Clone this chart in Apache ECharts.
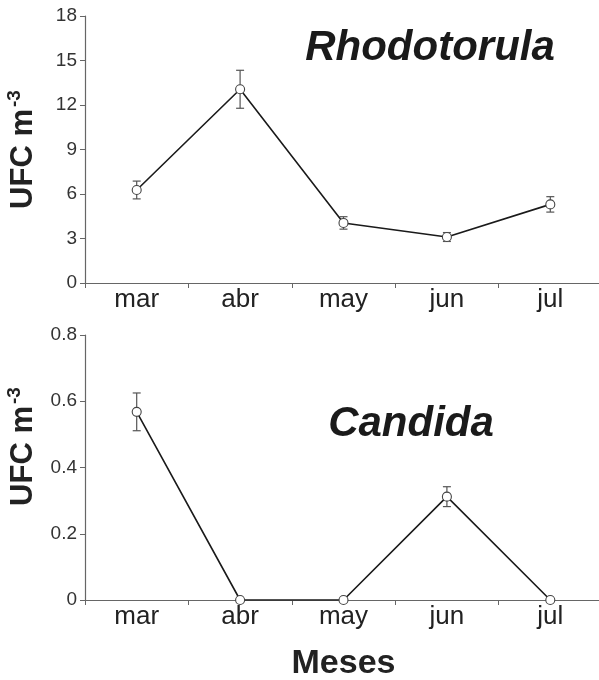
<!DOCTYPE html>
<html>
<head>
<meta charset="utf-8">
<script src="https://cdn.jsdelivr.net/npm/echarts@6/dist/echarts.min.js"></script>
<style>html,body{margin:0;padding:0;background:#fff;}#c{width:599px;height:680px;}</style>
</head>
<body>
<div id="c"></div>
<script>
var months = ['mar', 'abr', 'may', 'jun', 'jul'];
var rhodoValues = [6.27, 13.06, 4.05, 3.1, 5.3];
var rhodoErrors = [0.6, 1.28, 0.42, 0.3, 0.52];
var candidaValues = [0.568, 0, 0, 0.312, 0];
var candidaErrors = [0.057, 0, 0, 0.03, 0];
var rhodoTicks = {min: 0, max: 18, interval: 3};
var candidaTicks = {min: 0, max: 0.8, interval: 0.2};

var FONT = 'Liberation Sans, Arial, sans-serif';

function errData(vals, errs) {
  return vals.map(function (v, i) { return [i, v, errs[i]]; });
}
function errRender(params, api) {
  var e = api.value(2);
  if (!e) return null;
  var x = api.value(0), v = api.value(1);
  var t = api.coord([x, v + e]);
  var b = api.coord([x, v - e]);
  var w = 4;
  var st = {stroke: '#555', lineWidth: 1.2};
  return {type: 'group', children: [
    {type: 'line', shape: {x1: t[0], y1: t[1], x2: b[0], y2: b[1]}, style: st},
    {type: 'line', shape: {x1: t[0] - w, y1: t[1], x2: t[0] + w, y2: t[1]}, style: st},
    {type: 'line', shape: {x1: b[0] - w, y1: b[1], x2: b[0] + w, y2: b[1]}, style: st}
  ]};
}

function xAxisCfg(gi, withName) {
  var a = {
    type: 'category', gridIndex: gi, data: months, boundaryGap: true,
    axisLine: {lineStyle: {color: '#666', width: 1.2}},
    axisTick: {show: true, length: 5, lineStyle: {color: '#666'}},
    axisLabel: {fontFamily: FONT, fontSize: 26, color: '#222', margin: 4, interval: 0},
    splitLine: {show: false}
  };
  if (withName) {
    a.name = 'Meses';
    a.nameLocation = 'middle';
    a.nameGap = 47;
    a.nameTextStyle = {fontFamily: FONT, fontSize: 34, fontWeight: 'bold', color: '#222'};
  }
  return a;
}
function yAxisCfg(gi, ticks, shift) {
  return {
    type: 'value', gridIndex: gi, min: ticks.min, max: ticks.max, interval: ticks.interval,
    axisLine: {show: true, lineStyle: {color: '#666', width: 1.2}},
    axisTick: {show: true, length: 5, lineStyle: {color: '#666'}},
    axisLabel: {fontFamily: FONT, fontSize: 19, color: '#333', margin: 8},
    splitLine: {show: false},
    name: '{a|UFC m}{b|-3}',
    nameLocation: 'middle', nameRotate: 90, nameGap: 46,
    nameTextStyle: {
      padding: [0, 0, 0, shift],
      rich: {
        a: {fontFamily: FONT, fontSize: 31, fontWeight: 'bold', color: '#222', lineHeight: 34, verticalAlign: 'bottom'},
        b: {fontFamily: FONT, fontSize: 19, fontWeight: 'bold', color: '#222', lineHeight: 34, verticalAlign: 'top', padding: [0, 0, 8, 2]}
      }
    }
  };
}
function lineSeries(ai, vals) {
  return {
    type: 'line', xAxisIndex: ai, yAxisIndex: ai, data: vals, z: 5,
    symbol: 'circle', symbolSize: 9, showSymbol: true,
    lineStyle: {color: '#1a1a1a', width: 1.6},
    itemStyle: {color: '#fff', borderColor: '#444', borderWidth: 1.1},
    emphasis: {disabled: true}, animation: false
  };
}
function errSeries(ai, vals, errs) {
  return {
    type: 'custom', xAxisIndex: ai, yAxisIndex: ai, data: errData(vals, errs),
    renderItem: errRender, z: 2, animation: false, silent: true
  };
}

var chart = echarts.init(document.getElementById('c'));
chart.setOption({
  backgroundColor: '#fff',
  animation: false,
  grid: [
    {left: 85, top: 16, width: 517, height: 267, containLabel: false, outerBoundsMode: 'none'},
    {left: 85, top: 335, width: 517, height: 265, containLabel: false, outerBoundsMode: 'none'}
  ],
  xAxis: [xAxisCfg(0, false), xAxisCfg(1, true)],
  yAxis: [yAxisCfg(0, rhodoTicks, 0), yAxisCfg(1, candidaTicks, 42)],
  series: [
    errSeries(0, rhodoValues, rhodoErrors),
    lineSeries(0, rhodoValues),
    errSeries(1, candidaValues, candidaErrors),
    lineSeries(1, candidaValues)
  ],
  graphic: [
    {type: 'text', x: 430, y: 48, style: {text: 'Rhodotorula', align: 'center', verticalAlign: 'middle', font: 'italic bold 42px Liberation Sans, Arial, sans-serif', fill: '#1a1a1a'}},
    {type: 'text', x: 411, y: 424, style: {text: 'Candida', align: 'center', verticalAlign: 'middle', font: 'italic bold 42px Liberation Sans, Arial, sans-serif', fill: '#1a1a1a'}}
  ]
});
</script>
</body>
</html>
